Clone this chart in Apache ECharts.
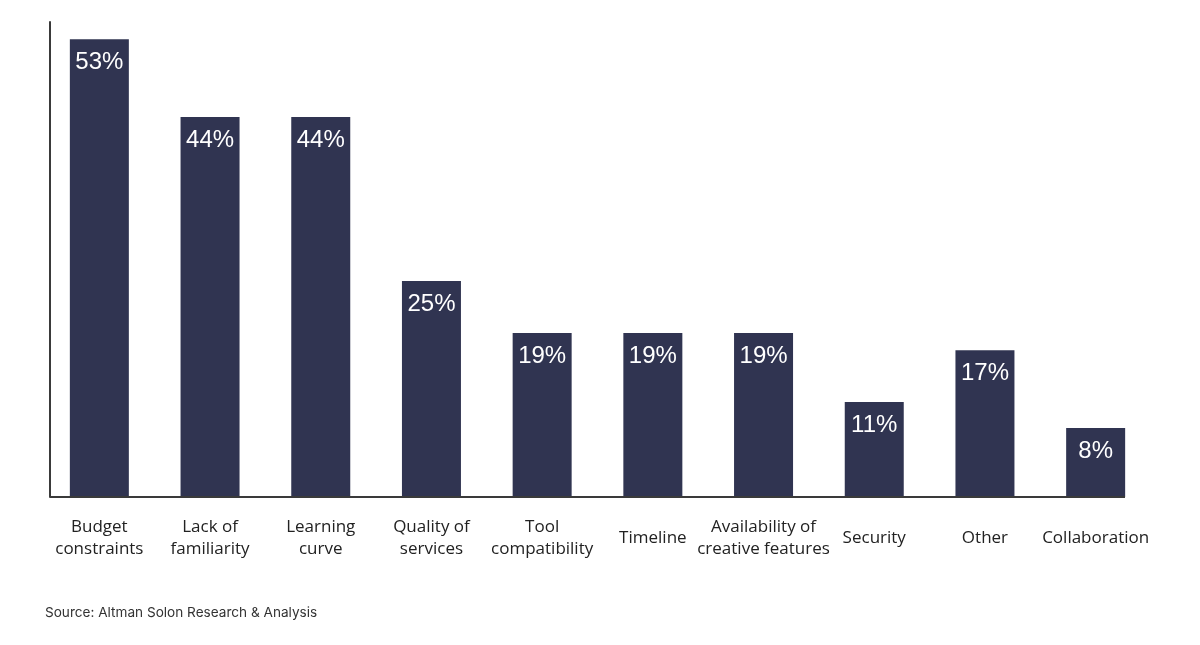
<!DOCTYPE html>
<html>
<head>
<meta charset="utf-8">
<script src="https://cdn.jsdelivr.net/npm/echarts@6/dist/echarts.min.js"></script>
<style>html,body{margin:0;padding:0;background:#fff;}#c{width:1200px;height:645px;}</style>
</head>
<body>
<div id="c"></div>
<script>
const categories = ['Budget\nconstraints', 'Lack of\nfamiliarity', 'Learning\ncurve', 'Quality of\nservices', 'Tool\ncompatibility', 'Timeline', 'Availability of\ncreative features', 'Security', 'Other', 'Collaboration'];
const values = [53, 44, 44, 25, 19, 19, 19, 11, 17, 8];
const sourceText = 'Source: Altman Solon Research & Analysis';

const chart = echarts.init(document.getElementById('c'), null, {renderer: 'canvas'});
chart.setOption({
  animation: false,
  backgroundColor: '#ffffff',
  grid: {left: 44, top: 22, width: 1107, height: 475},
  xAxis: {
    type: 'category',
    data: categories,
    axisLine: {show: false},
    axisTick: {show: false},
    axisLabel: {
      interval: 0,
      color: '#222222',
      fontFamily: 'Open Sans',
      fontSize: 17,
      lineHeight: 22,
      verticalAlign: 'middle',
      margin: 41
    }
  },
  yAxis: {
    type: 'value',
    min: 0,
    max: 55,
    offset: -6,
    axisLine: {show: true, lineStyle: {color: '#3a3a3a', width: 2}},
    axisTick: {show: false},
    axisLabel: {show: false},
    splitLine: {show: false}
  },
  series: [{
    type: 'bar',
    data: values,
    barWidth: 59,
    itemStyle: {color: '#303451'},
    label: {
      show: true,
      position: 'insideTop',
      distance: 11,
      color: '#ffffff',
      fontFamily: 'Liberation Sans',
      fontSize: 24,
      formatter: p => p.value + '%'
    }
  }],
  graphic: [
    {type: 'line', shape: {x1: 50, y1: 497, x2: 1125, y2: 497}, style: {stroke: '#3a3a3a', lineWidth: 2}, z: 10},
    {type: 'text', left: 45, top: 606, style: {text: sourceText, fill: '#333333', font: '13.6px Inter'}}
  ]
});
</script>
</body>
</html>
